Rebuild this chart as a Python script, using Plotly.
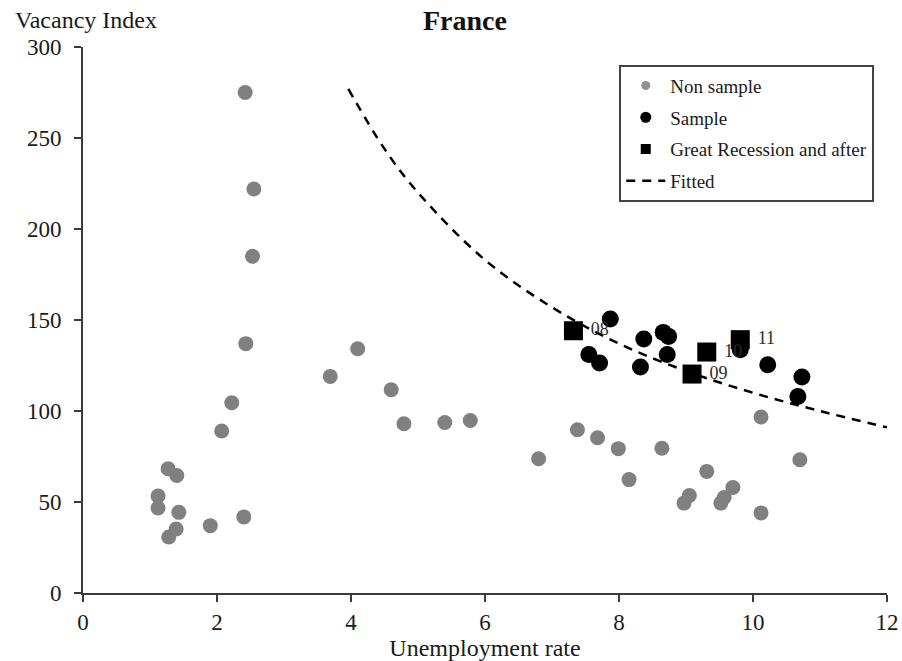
import plotly.graph_objects as go

# ---- data ----
nonsample_x = [2.42, 2.55, 2.53, 2.43, 2.22, 2.07, 1.27, 1.40, 1.12, 1.12, 1.43, 1.39, 1.28, 1.90, 2.40,
               4.10, 3.69, 4.60, 4.79, 5.40, 5.78, 6.80, 7.38, 7.68, 7.99, 8.64, 8.15, 9.05, 8.97,
               9.31, 10.70, 9.70, 9.57, 9.52, 10.12, 10.12]
nonsample_y = [275, 222, 185, 137, 104.5, 89, 68.3, 64.6, 53.3, 46.7, 44.3, 35.2, 30.8, 37, 41.8,
               134.2, 119, 111.7, 93, 93.7, 94.8, 73.8, 89.7, 85.3, 79.3, 79.5, 62.3, 53.6, 49.4,
               66.8, 73.2, 58, 52.5, 49.4, 44, 96.7]

sample_x = [7.87, 7.55, 7.71, 8.37, 8.32, 8.66, 8.74, 8.72, 9.81, 10.22, 10.73, 10.67]
sample_y = [150.5, 131, 126.4, 139.6, 124.2, 143.2, 141, 131, 133.7, 125.4, 118.7, 108]

recession_x = [7.32, 9.09, 9.31, 9.81]
recession_y = [144.1, 120.3, 132.4, 139.2]
recession_labels = ["08", "09", "10", "11"]

fitted_x = [3.96, 4.5, 5, 6, 7, 8, 9, 10, 11, 12]
fitted_y = [277, 244, 220, 183, 157, 137, 122, 110, 100, 91]

x_ticks = [0, 2, 4, 6, 8, 10, 12]
y_ticks = [0, 50, 100, 150, 200, 250, 300]

SERIF = "Liberation Serif, Times New Roman, serif"
AXIS_COLOR = "#3a3a3a"

fig = go.Figure()

# data traces (no legend)
fig.add_trace(go.Scatter(x=nonsample_x, y=nonsample_y, mode="markers",
                         marker=dict(color="#808080", size=15), showlegend=False, cliponaxis=False))
fig.add_trace(go.Scatter(x=fitted_x, y=fitted_y, mode="lines", line=dict(color="black", width=2.5,
                         dash="9px,7px", shape="spline"), showlegend=False))
fig.add_trace(go.Scatter(x=sample_x, y=sample_y, mode="markers",
                         marker=dict(color="black", size=17), showlegend=False))
fig.add_trace(go.Scatter(x=recession_x, y=recession_y, mode="markers+text",
                         marker=dict(color="black", size=19, symbol="square"),
                         text=recession_labels, texttemplate=" %{text}", textposition="middle right",
                         textfont=dict(family=SERIF, size=18, color="#2a2a2a"), showlegend=False))

# legend entries
fig.add_trace(go.Scatter(x=[None], y=[None], mode="markers", name="Non sample", legendgroup="a",
                         marker=dict(color="#909090", size=9)))
fig.add_trace(go.Scatter(x=[None], y=[None], mode="markers", name="Sample", legendgroup="b",
                         marker=dict(color="black", size=11)))
fig.add_trace(go.Scatter(x=[None], y=[None], mode="markers", name="Great Recession and after",
                         legendgroup="c", marker=dict(color="black", size=10, symbol="square")))
fig.add_trace(go.Scatter(x=[None], y=[None], mode="lines", name="Fitted", legendgroup="d",
                         line=dict(color="black", width=2.5, dash="9px,7px")))

fig.update_layout(
    width=902, height=661,
    margin=dict(l=83, r=15, t=47, b=68),
    paper_bgcolor="white", plot_bgcolor="white",
    font=dict(family=SERIF, color="#1a1a1a"),
    title=dict(text="<b>France</b>", xref="container", x=0.5155, xanchor="center",
               yref="container", y=1 - 20 / 661, yanchor="middle",
               font=dict(family=SERIF, size=28, color="#111")),
    xaxis=dict(range=[0, 12], tickvals=x_ticks, ticks="outside", ticklen=7, tickwidth=1.5,
               tickcolor=AXIS_COLOR, showline=True, linewidth=2, linecolor=AXIS_COLOR,
               showgrid=False, zeroline=False, tickfont=dict(size=23), automargin=False,
               title=dict(text="Unemployment rate", font=dict(size=24), standoff=2)),
    yaxis=dict(range=[0, 300], tickvals=y_ticks, ticks="outside", ticklen=7, tickwidth=1.5,
               tickcolor=AXIS_COLOR, showline=True, linewidth=2, linecolor=AXIS_COLOR,
               showgrid=False, zeroline=False, tickfont=dict(size=23), ticklabelstandoff=8,
               automargin=False),
    legend=dict(x=0.667, y=0.9676, xanchor="left", yanchor="top", bgcolor="white",
                bordercolor="#444", borderwidth=2, font=dict(family=SERIF, size=19, color="#1a1a1a"),
                tracegroupgap=4, itemwidth=39),
    annotations=[dict(text="Vacancy Index", xref="paper", yref="paper", x=0.004, y=1.05,
                      xanchor="center", yanchor="middle", showarrow=False,
                      font=dict(family=SERIF, size=24, color="#1a1a1a"))],
)

fig.write_html("out.html")
